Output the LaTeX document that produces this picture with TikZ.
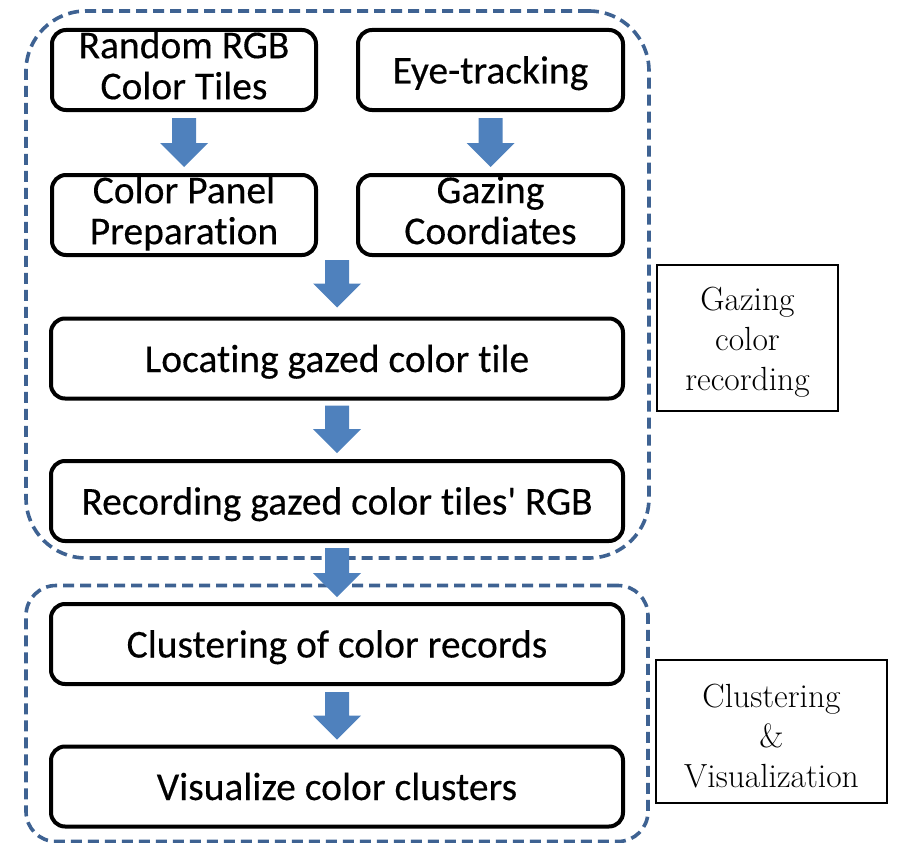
\documentclass[tikz,border=0pt]{standalone}
\usepackage{fontspec}
\newfontfamily\carlito[Ligatures=NoCommon,FakeBold=0.3]{Carlito}
\usetikzlibrary{calc}
\definecolor{arrowblue}{RGB}{79,129,189}
\definecolor{dashblue}{RGB}{62,98,146}
\newcommand\blockarrow[2]{%
  \fill[arrowblue] ($(#1)+(-12,0)$) -- ($(#2)+(-12,-24)$) -- ($(#2)+(-24,-24)$) -- (#2)
    -- ($(#2)+(24,-24)$) -- ($(#2)+(12,-24)$) -- ($(#1)+(12,0)$) -- cycle;}
\begin{document}
\begin{tikzpicture}[x=1pt,y=-1pt,
  stepbox/.style={draw=black, fill=white, line width=4pt, rounded corners=14pt,
    minimum height=80pt, inner sep=0pt, align=center,
    font=\carlito\fontsize{39.5}{41}\selectfont},
  onebox/.style={stepbox, text height=27pt, text depth=0pt},
  grp/.style={draw=dashblue, line width=3.6pt, dash pattern=on 11pt off 6pt, inner sep=0pt},
  lbl/.style={draw=black, line width=1.3pt, inner sep=0pt, align=center,
    font=\fontsize{33.5}{40}\selectfont}
]
\useasboundingbox (0,0) rectangle (897,843);

% dashed groups
\node (g1) [grp, rounded corners=60pt, minimum width=623pt, minimum height=547pt] at (337.5,284.5) {};
\node (g2) [grp, rounded corners=30pt, minimum width=622pt, minimum height=256pt] at (337,713.5) {};

% step boxes
\node (rgb)   [stepbox, minimum width=264pt] at (184,70) {\rule{0pt}{27pt}Random RGB\\Color Tiles\rule[-10pt]{0pt}{10pt}};
\node (eye)   [onebox, minimum width=265pt] at (490.5,70) {Eye-tracking};
\node (panel) [stepbox, minimum width=264pt] at (184,215) {\rule{0pt}{27pt}Color Panel\\Preparation\rule[-10pt]{0pt}{10pt}};
\node (gaze)  [stepbox, minimum width=265pt] at (490.5,215) {\rule{0pt}{27pt}Gazing\\Coordiates\rule[-10pt]{0pt}{10pt}};
\node (locate) [onebox, minimum width=572pt] at (337,358.5) {Locating gazed color tile};
\node (record) [onebox, minimum width=572pt] at (337,501) {Recording gazed color tiles' RGB};
\node (cluster) [onebox, minimum width=572pt] at (337,644) {Clustering of color records};
\node (visual) [onebox, minimum width=572pt] at (337,786.5) {Visualize color clusters};

% side labels
\node (lab1) [lbl, minimum width=181pt, minimum height=146pt] at (747.5,338) {\rule{0pt}{32pt}Gazing\\color\\recording};
\node (lab2) [lbl, minimum width=231pt, minimum height=143pt] at (771.5,731.5) {\rule{0pt}{32pt}Clustering\\\&\\Visualization};

% block arrows
\blockarrow{$(rgb.south)+(0,6)$}{$(panel.north)+(0,-6)$}
\blockarrow{$(eye.south)+(0,6)$}{$(gaze.north)+(0,-6)$}
\blockarrow{$(locate.north |- panel.south)+(0,3)$}{$(locate.north)+(0,-9)$}
\blockarrow{$(locate.south)+(0,5)$}{$(record.north)+(0,-6)$}
\blockarrow{$(record.south)+(0,5)$}{$(cluster.north)+(0,-5)$}
\blockarrow{$(cluster.south)+(0,6)$}{$(visual.north)+(0,-5)$}
\end{tikzpicture}
\end{document}
